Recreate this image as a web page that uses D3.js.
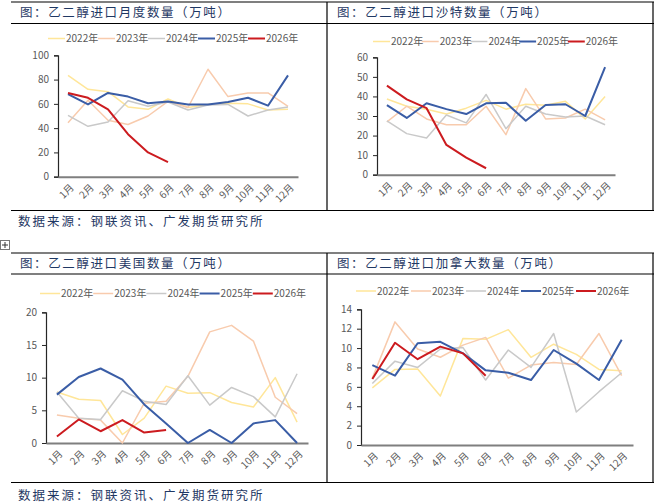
<!DOCTYPE html>
<html>
<head>
<meta charset="utf-8">
<script src="https://cdn.jsdelivr.net/npm/d3@7"></script>
<style>
  html, body { margin: 0; padding: 0; background: #fff; }
  svg { display: block; }
</style>
</head>
<body>
<script>
// categories and series names
const months = ["1月", "2月", "3月", "4月", "5月", "6月", "7月", "8月", "9月", "10月", "11月", "12月"];
const years = ["2022年", "2023年", "2024年", "2025年", "2026年"];

// 乙二醇进口月度数量, rows follow years
const totalImports = [
  [83.5, 72, 70, 57.5, 55.5, 64, 57, 59.5, 60.5, 60, 55, 55.5],
  [44.5, 63, 46.5, 43, 50, 62, 57, 88.5, 66, 69, 69, 58],
  [50.5, 41.5, 45, 62.5, 58, 61.5, 55, 59, 59.5, 50, 55, 57.5],
  [68, 59.5, 69, 66, 60.5, 62, 59.5, 59.5, 61.5, 65, 58.5, 83.5],
  [69, 65, 55.5, 35, 20, 12]
];

// 乙二醇进口沙特数量
const saudiImports = [
  [38.7, 35, 33.5, 31, 34, 38, 33.5, 36, 35.5, 37.5, 28.5, 40],
  [27, 35, 28.5, 25.5, 25.5, 35, 20.5, 44, 28.5, 29, 33.5, 28],
  [27.5, 21, 18.8, 30.5, 26.5, 41, 23.5, 35, 31, 29.5, 30, 25.5],
  [35.6, 29, 36.5, 33.5, 31, 36.5, 36.8, 27.6, 35.6, 36, 30, 55],
  [45.5, 38.5, 34, 15.2, 8.7, 3.3]
];

// 乙二醇进口美国数量
const usImports = [
  [7.8, 6.7, 6.5, 1.3, 3.8, 8.7, 7.6, 7.7, 6.2, 5.5, 10, 3.2],
  [4.3, 3.8, 3.5, 0, 6.1, 6.4, 10.2, 17, 18, 15.6, 7, 4.5],
  [7.8, 3.8, 3.6, 8, 6.4, 5.9, 10.3, 5.8, 8.5, 7.1, 4, 10.6],
  [7.4, 10.1, 11.4, 9.7, 5.9, 3, 0, 2, 0, 3, 3.5, 0],
  [1, 3.6, 1.8, 3.5, 1.6, 2]
];

// 乙二醇进口加拿大数量
const canadaImports = [
  [5.9, 7.8, 7.85, 5.05, 11, 10.9, 11.9, 9.05, 10.4, 9.35, 7.8, 7.65],
  [6.9, 12.7, 9.9, 9.05, 10.3, 11.1, 6.9, 8.25, 8.5, 8.3, 11.5, 7.15],
  [6.35, 8.65, 8, 9.9, 10.05, 6.7, 9.8, 8, 11.5, 3.4, 5.5, 7.45],
  [8.25, 7.15, 10.5, 10.65, 9.45, 7.7, 7.45, 6.7, 9.8, 8.4, 6.7, 10.85],
  [6.8, 10.55, 8.85, 10.15, 9.45, 7.15]
];

// y tick labels per chart
const totalTicks = [0, 20, 40, 60, 80, 100];
const saudiTicks = [0, 10, 20, 30, 40, 50, 60];
const usTicks = [0, 5, 10, 15, 20];
const canadaTicks = [0, 2, 4, 6, 8, 10, 12, 14];

const colors = ["#ffe699", "#f8cbad", "#c9c9c9", "#3a5da6", "#cc1b1f"];
const widths = [1.5, 1.5, 1.5, 2, 2];

const W = 654, H = 504;
const svg = d3.select("body").append("svg").attr("width", W).attr("height", H);

const font = "'Noto Sans CJK SC', 'Noto Sans', sans-serif";
const navy = "#1f3864";

// panel frames
const frame = svg.append("g").attr("stroke", "#000").attr("stroke-width", 1.2).attr("fill", "none");
[[2, 23.5, 210.5], [253, 274, 482.5]].forEach(([top, mid, bot]) => {
  frame.append("line").attr("x1", 11).attr("x2", 654).attr("y1", top).attr("y2", top);
  frame.append("line").attr("x1", 11).attr("x2", 654).attr("y1", mid).attr("y2", mid);
  frame.append("line").attr("x1", 11).attr("x2", 654).attr("y1", bot).attr("y2", bot);
  frame.append("line").attr("x1", 327).attr("x2", 327).attr("y1", top).attr("y2", bot);
  frame.append("line").attr("x1", 653).attr("x2", 653).attr("y1", top).attr("y2", bot);
});

// little move handle
const handle = svg.append("g").attr("transform", "translate(0.5,240.5)");
handle.append("rect").attr("width", 9).attr("height", 9).attr("fill", "#fff").attr("stroke", "#777");
handle.append("path").attr("d", "M4.5,1.5V7.5M1.5,4.5H7.5").attr("stroke", "#222").attr("stroke-width", 0.9);

// source lines
[222, 496].forEach(y => {
  svg.append("text").attr("x", 18).attr("y", y).attr("dy", "0.35em")
    .attr("font-family", font).attr("font-size", 12.5).attr("letter-spacing", 2)
    .attr("fill", navy).text("数据来源：钢联资讯、广发期货研究所");
});

const panels = [
  { title: "图：乙二醇进口月度数量（万吨）", tx: 20, ty: 13, data: totalImports, ticks: totalTicks,
    x0: 58, x1: 298, y0: 176.7, y1: 55.3, legX: 48, legY: 38.5, legStep: 50, legLen: 17 },
  { title: "图：乙二醇进口沙特数量（万吨）", tx: 337, ty: 13, data: saudiImports, ticks: saudiTicks,
    x0: 377, x1: 615, y0: 174.7, y1: 57.3, legX: 373, legY: 41.5, legStep: 48.7, legLen: 17 },
  { title: "图：乙二醇进口美国数量（万吨）", tx: 20, ty: 263.5, data: usImports, ticks: usTicks,
    x0: 46, x1: 308, y0: 443, y1: 312.3, legX: 40, legY: 293.5, legStep: 53.2, legLen: 20 },
  { title: "图：乙二醇进口加拿大数量（万吨）", tx: 337, ty: 263.5, data: canadaImports, ticks: canadaTicks,
    x0: 361, x1: 633, y0: 445, y1: 309.3, legX: 356, legY: 291, legStep: 55, legLen: 20 }
];

panels.forEach(p => {
  const g = svg.append("g");

  g.append("text").attr("x", p.tx).attr("y", p.ty).attr("dy", "0.35em")
    .attr("font-family", font).attr("font-size", 12.5).attr("letter-spacing", 1.6)
    .attr("fill", navy).text(p.title);

  const x = d3.scaleBand().domain(months).range([p.x0, p.x1]);
  const y = d3.scaleLinear().domain([0, d3.max(p.ticks)]).range([p.y0, p.y1]);

  // y axis
  const ya = g.append("g").attr("transform", `translate(${p.x0},0)`)
    .call(d3.axisLeft(y).tickValues(p.ticks).tickSize(4).tickPadding(5));
  ya.select(".domain").attr("stroke", "#262626").attr("stroke-width", 1.2);
  ya.selectAll(".tick line").attr("stroke", "#262626");
  ya.selectAll("text").attr("font-family", font).attr("font-size", 10).attr("fill", "#595959");

  // x axis
  const xa = g.append("g").attr("transform", `translate(0,${p.y0})`)
    .call(d3.axisBottom(x).tickSize(0).tickPadding(0));
  xa.select(".domain").attr("stroke", "#7f7f7f").attr("stroke-width", 2);
  xa.selectAll("text")
    .attr("font-family", font).attr("font-size", 10).attr("fill", "#595959")
    .attr("text-anchor", "end").attr("dy", "0.35em")
    .attr("transform", "translate(4,9) rotate(-45)");

  // lines
  const line = d3.line().x((d, i) => x(months[i]) + x.bandwidth() / 2).y(d => y(d));
  p.data.forEach((vals, k) => {
    g.append("path").datum(vals)
      .attr("fill", "none").attr("stroke", colors[k]).attr("stroke-width", widths[k])
      .attr("stroke-linejoin", "round")
      .attr("d", line);
  });

  // legend
  const leg = g.append("g").selectAll("g").data(years).join("g")
    .attr("transform", (d, i) => `translate(${p.legX + i * p.legStep},${p.legY})`);
  leg.append("line").attr("x1", 0).attr("x2", p.legLen)
    .attr("stroke", (d, i) => colors[i]).attr("stroke-width", (d, i) => widths[i]);
  leg.append("text").attr("x", p.legLen + 1).attr("dy", "0.35em")
    .attr("font-family", font).attr("font-size", 10).attr("fill", "#595959").text(d => d);
});
</script>
</body>
</html>
